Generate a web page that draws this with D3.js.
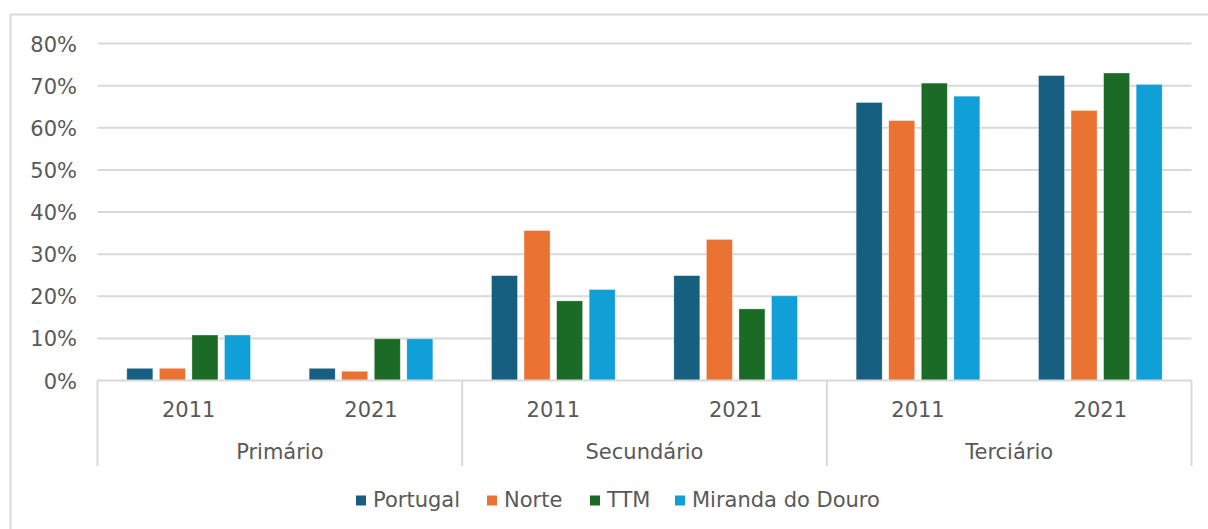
<!DOCTYPE html>
<html>
<head>
<meta charset="utf-8">
<script src="https://cdn.jsdelivr.net/npm/d3@7"></script>
<style>
  body { margin: 0; background: #fff; }
  svg text { font-family: "DejaVu Sans", Verdana, sans-serif; fill: #595959; }
</style>
</head>
<body>
<svg id="chart" width="1208" height="529"></svg>
<script>
// data
const sectors = ["Primário", "Secundário", "Terciário"];
const years = ["2011", "2021"];
const seriesNames = ["Portugal", "Norte", "TTM", "Miranda do Douro"];
const seriesColors = ["#175f80", "#ea7233", "#1b6a25", "#119fd7"];
// values in %, order: sector -> year -> series
const portugal = [2.9, 2.9, 24.9, 24.9, 66.0, 72.4];
const norte    = [2.9, 2.2, 35.6, 33.5, 61.7, 64.1];
const ttm      = [10.8, 9.9, 18.9, 17.0, 70.6, 73.0];
const miranda  = [10.8, 9.9, 21.6, 20.1, 67.5, 70.3];
const yTicks = [0, 10, 20, 30, 40, 50, 60, 70, 80];

const seriesValues = [portugal, norte, ttm, miranda];

const svg = d3.select("#chart");
const plotLeft = 97.5, plotRight = 1191.5, plotTop = 43.5, plotBottom = 380.5;

// outer frame (the chart box is cut off on the right and bottom)
svg.append("path")
    .attr("d", "M10.5,529 V14.5 H1208")
    .attr("fill", "none").attr("stroke", "#d9d9d9").attr("stroke-width", 2);

const y = d3.scaleLinear().domain([0, 80]).range([plotBottom, plotTop]);

// gridlines
svg.append("g").selectAll("line")
    .data(yTicks.filter(d => d > 0))
    .join("line")
    .attr("x1", plotLeft).attr("x2", plotRight)
    .attr("y1", d => y(d)).attr("y2", d => y(d))
    .attr("stroke", "#d9d9d9").attr("stroke-width", 2);

// y labels
svg.append("g").selectAll("text")
    .data(yTicks)
    .join("text")
    .attr("x", 77).attr("y", d => y(d) + 8)
    .attr("text-anchor", "end")
    .attr("font-size", 21)
    .text(d => d + "%");

// one slot per sector/year
const slots = [];
sectors.forEach((s, i) => years.forEach((yr, j) => slots.push({ sector: s, year: yr, idx: i * years.length + j })));

const x0 = d3.scaleBand().domain(slots.map(d => d.idx)).range([plotLeft, plotRight]);
const xs = d3.scaleBand().domain(sectors).range([plotLeft, plotRight]);
const x1 = d3.scaleBand().domain(seriesNames).range([0, x0.bandwidth()]).paddingInner(0.2).paddingOuter(0.9);

// bars
const barG = svg.append("g");
seriesNames.forEach((name, k) => {
    barG.append("g").selectAll("rect")
        .data(slots)
        .join("rect")
        .attr("x", d => x0(d.idx) + x1(name))
        .attr("width", x1.bandwidth())
        .attr("y", d => y(seriesValues[k][d.idx]))
        .attr("height", d => plotBottom - y(seriesValues[k][d.idx]))
        .attr("fill", seriesColors[k])
        .attr("stroke", "#fff").attr("stroke-width", 0.7).attr("stroke-opacity", 0.5);
});

// category axis: baseline and separators
const axisG = svg.append("g");
axisG.append("line")
    .attr("x1", plotLeft).attr("x2", plotRight).attr("y1", plotBottom).attr("y2", plotBottom)
    .attr("stroke", "#d9d9d9").attr("stroke-width", 2);
const seps = sectors.map(s => xs(s)).concat([plotRight]);
axisG.selectAll(".sep")
    .data(seps)
    .join("line")
    .attr("class", "sep")
    .attr("x1", d => d).attr("x2", d => d)
    .attr("y1", plotBottom).attr("y2", 466)
    .attr("stroke", "#d9d9d9").attr("stroke-width", 2);

// year labels
axisG.selectAll(".yr")
    .data(slots)
    .join("text")
    .attr("class", "yr")
    .attr("x", d => x0(d.idx) + x0.bandwidth() / 2)
    .attr("y", 417)
    .attr("text-anchor", "middle")
    .attr("font-size", 21)
    .text(d => d.year);

// sector labels
axisG.selectAll(".sec")
    .data(sectors)
    .join("text")
    .attr("class", "sec")
    .attr("x", d => xs(d) + xs.bandwidth() / 2)
    .attr("y", 459)
    .attr("text-anchor", "middle")
    .attr("font-size", 21)
    .text(d => d);

// legend
const legendX = [356, 487, 590, 675];
const legend = svg.append("g").selectAll("g")
    .data(seriesNames)
    .join("g")
    .attr("transform", (d, i) => `translate(${legendX[i]},495.5)`);
legend.append("rect")
    .attr("width", 10).attr("height", 10)
    .attr("fill", (d, i) => seriesColors[i]);
legend.append("text")
    .attr("x", 17).attr("y", 11.5)
    .attr("font-size", 21)
    .text(d => d);
</script>
</body>
</html>
